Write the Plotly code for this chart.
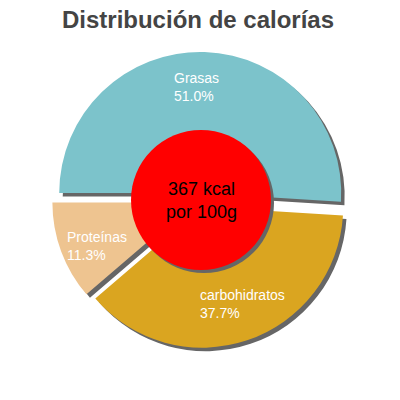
import math
import plotly.graph_objects as go

# calorie split per 100g
labels = ["Grasas", "Proteínas", "carbohidratos"]
values = [51.0, 11.3, 37.7]
colors = ["#7CC3CB", "#EEC490", "#DAA520"]
kcal = 367

W = H = 400
OFF = 8                # page body margin, positions below are in picture px
cx, cy = 200, 200      # pie centre
R = 141                # pie radius
PULL = 0.05
sh = 3.5               # shadow offset
FONT = "Liberation Sans, Arial"


def px(x, y):
    return (x - OFF) / W, (H - (y - OFF)) / H


def dom(x0, y0):
    half = R * (1 + PULL)
    (a, b), (c, d) = px(x0 - half, y0 + half), px(x0 + half, y0 - half)
    return dict(x=[a, c], y=[b, d])


common = dict(labels=labels, values=values, sort=False, direction="counterclockwise",
              rotation=-90, pull=PULL, hole=0.4, textinfo="none", showlegend=False)

fig = go.Figure()
fig.add_trace(go.Pie(**common, domain=dom(cx + sh, cy + sh), hoverinfo="skip",
                     marker=dict(colors=["#666666"] * 3, line=dict(width=0))))
fig.add_trace(go.Pie(**common, domain=dom(cx, cy),
                     marker=dict(colors=colors, line=dict(width=0))))

# slice labels, placed at 3/4 radius on each slice's bisector
tot = sum(values)
cum = 0
for lab, v in zip(labels, values):
    mid = math.radians(360 * (cum + v / 2) / tot)
    cum += v
    d = R * PULL + 0.75 * R
    ax, ay = px(cx + d * math.cos(mid), cy - d * math.sin(mid))
    fig.add_annotation(text=f"{lab}<br>{v / tot:.1%}", x=ax, y=ay, xref="paper", yref="paper",
                       showarrow=False, align="left", xanchor="center", yanchor="middle",
                       font=dict(family=FONT, size=14, color="white"))

# centre disc with its shadow
rx, ry, r = 201, 200, 70
for dx, col in [(3, "#666666"), (0, "#FF0000")]:
    (x0, y0), (x1, y1) = px(rx + dx - r, ry + dx + r), px(rx + dx + r, ry + dx - r)
    fig.add_shape(type="circle", xref="paper", yref="paper", x0=x0, x1=x1, y0=y0, y1=y1,
                  fillcolor=col, line=dict(width=0), layer="above")
tx, ty = px(rx, ry)
fig.add_annotation(text=f"{kcal} kcal<br>por 100g", x=tx, y=ty, xref="paper", yref="paper",
                   showarrow=False, font=dict(family=FONT, size=18, color="black"))

ttx, tty = px(198, 20)
fig.update_layout(
    width=W, height=H, margin=dict(l=0, r=0, t=0, b=0),
    paper_bgcolor="white", plot_bgcolor="white",
    title=dict(text="<b>Distribución de calorías</b>", x=ttx, xanchor="center",
               y=tty, yanchor="middle", yref="container",
               font=dict(family=FONT, size=24, color="#444444")),
)

fig.write_html("out.html")
